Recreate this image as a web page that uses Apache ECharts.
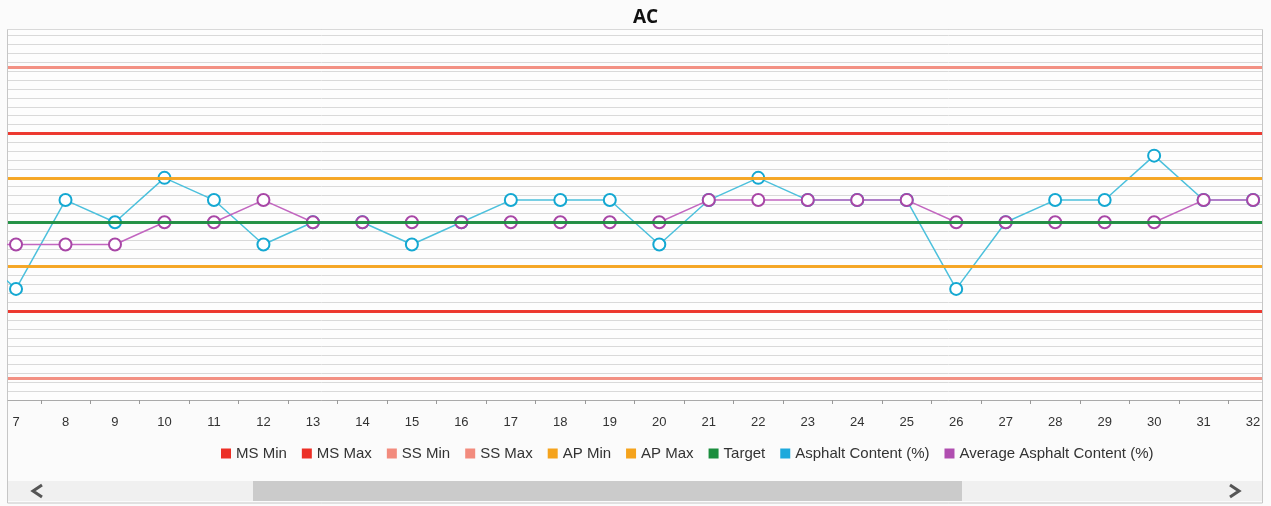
<!DOCTYPE html>
<html>
<head>
<meta charset="utf-8">
<script src="https://cdn.jsdelivr.net/npm/echarts@6/dist/echarts.min.js"></script>
<style>
	html, body { margin: 0; padding: 0; background: #fbfbfb; }
	#chart { width: 1271px; height: 506px; }
</style>
</head>
<body>
<div id="chart"></div>
<script>
// days shown on the x axis (6 sits just off the left edge, scrolled out)
const days = [6, 7, 8, 9, 10, 11, 12, 13, 14, 15, 16, 17, 18, 19, 20, 21, 22, 23, 24, 25, 26, 27, 28, 29, 30, 31, 32];
const asphaltContent = [4.9, 4.7, 5.1, 5.0, 5.2, 5.1, 4.9, 5.0, 5.0, 4.9, 5.0, 5.1, 5.1, 5.1, 4.9, 5.1, 5.2, 5.1, 5.1, 5.1, 4.7, 5.0, 5.1, 5.1, 5.3, 5.1, 5.1];
const avgAsphaltContent = [4.9, 4.9, 4.9, 4.9, 5.0, 5.0, 5.1, 5.0, 5.0, 5.0, 5.0, 5.0, 5.0, 5.0, 5.0, 5.1, 5.1, 5.1, 5.1, 5.1, 5.0, 5.0, 5.0, 5.0, 5.0, 5.1, 5.1];
const tickLabels = [7, 8, 9, 10, 11, 12, 13, 14, 15, 16, 17, 18, 19, 20, 21, 22, 23, 24, 25, 26, 27, 28, 29, 30, 31, 32];
const tickMarks = [7.5, 8.5, 9.5, 10.5, 11.5, 12.5, 13.5, 14.5, 15.5, 16.5, 17.5, 18.5, 19.5, 20.5, 21.5, 22.5, 23.5, 24.5, 25.5, 26.5, 27.5, 28.5, 29.5, 30.5, 31.5];

// spec limits
const limitNames = ['MS Min', 'MS Max', 'SS Min', 'SS Max', 'AP Min', 'AP Max', 'Target'];
const limitValues = [4.6, 5.4, 4.3, 5.7, 4.8, 5.2, 5.0];
const limitColors = ['#ec2f26', '#ec2f26', '#f28b7d', '#f28b7d', '#f5a31c', '#f5a31c', '#1b8e3e'];

const chart = echarts.init(document.getElementById('chart'));

const limitSeries = limitNames.map((name, i) => ({
	name: name,
	type: 'line',
	data: [],
	z: 1,
	color: limitColors[i],
	itemStyle: { color: limitColors[i] },
	markLine: {
		silent: true,
		symbol: 'none',
		label: { show: false },
		lineStyle: { color: limitColors[i], width: 3, type: 'solid', opacity: 0.95 },
		data: [{ yAxis: limitValues[i] }],
	},
}));

const option = {
	animation: false,
	backgroundColor: '#fbfbfb',
	title: {
		text: 'AC',
		left: 628,
		top: 3,
		textStyle: { fontFamily: 'Open Sans', fontSize: 19, fontWeight: 'bold', color: '#111' },
	},
	legend: {
		left: 216,
		top: 441,
		icon: 'rect',
		itemWidth: 10,
		itemHeight: 10,
		itemGap: 15,
		textStyle: { fontFamily: 'Liberation Sans', fontSize: 15, color: '#333' },
		data: limitNames.map((n, i) => ({ name: n, itemStyle: { color: limitColors[i] } })).concat([
			{ name: 'Asphalt Content (%)', itemStyle: { color: '#1ea9dc', borderWidth: 0 } },
			{ name: 'Average Asphalt Content (%)', itemStyle: { color: '#b04eb0', borderWidth: 0 } },
		]),
	},
	grid: {
		left: 8,
		right: 9,
		top: 29,
		bottom: 106,
		show: true,
		backgroundColor: '#fdfdfd',
		borderWidth: 0,
	},
	xAxis: {
		type: 'value',
		min: 6.838,
		max: 32.18,
		axisLine: { show: true, lineStyle: { color: '#aaa' } },
		axisTick: { show: true, length: 4, customValues: tickMarks, lineStyle: { color: '#999' } },
		axisLabel: {
			customValues: tickLabels,
			margin: 16,
			fontFamily: 'Liberation Sans',
			fontSize: 13,
			color: '#333',
		},
		splitLine: { show: false },
	},
	yAxis: {
		type: 'value',
		min: 4.2,
		max: 5.87,
		interval: 0.04,
		axisLine: { show: false },
		axisTick: { show: false },
		axisLabel: { show: false },
		splitLine: { lineStyle: { color: '#d9d9d9' } },
	},
	series: limitSeries.concat([
		{
			name: 'Asphalt Content (%)',
			type: 'line',
			z: 3,
			data: days.map((d, i) => [d, asphaltContent[i]]),
			symbol: 'emptyCircle',
			symbolSize: 12,
			color: '#14a8d2',
			itemStyle: { color: '#14a8d2', borderWidth: 3 },
			lineStyle: { color: '#4cc0dc', width: 1.5 },
		},
		{
			name: 'Average Asphalt Content (%)',
			type: 'line',
			z: 4,
			data: days.map((d, i) => [d, avgAsphaltContent[i]]),
			symbol: 'emptyCircle',
			symbolSize: 12,
			color: '#a846a6',
			itemStyle: { color: '#a846a6', borderWidth: 3 },
			lineStyle: { color: '#c266c0', width: 1.5 },
		},
	]),
	graphic: [
		// outer frame
		{
			type: 'rect',
			silent: true,
			shape: { x: 7.5, y: 29.5, width: 1255, height: 473.5 },
			style: { fill: 'none', stroke: '#c6c6c6', lineWidth: 1 },
		},
		// scrollbar
		{
			type: 'rect',
			silent: true,
			shape: { x: 8, y: 481, width: 1254, height: 20 },
			style: { fill: '#f0f0f0' },
		},
		{
			type: 'rect',
			silent: true,
			shape: { x: 253, y: 481, width: 709, height: 20 },
			style: { fill: '#cbcbcb' },
		},
		{
			type: 'polyline',
			silent: true,
			shape: { points: [[42, 485], [33, 491], [42, 497]] },
			style: { stroke: '#555', lineWidth: 3, fill: 'none' },
		},
		{
			type: 'polyline',
			silent: true,
			shape: { points: [[1230, 485], [1239, 491], [1230, 497]] },
			style: { stroke: '#555', lineWidth: 3, fill: 'none' },
		},
	],
};

chart.setOption(option);
</script>
</body>
</html>
